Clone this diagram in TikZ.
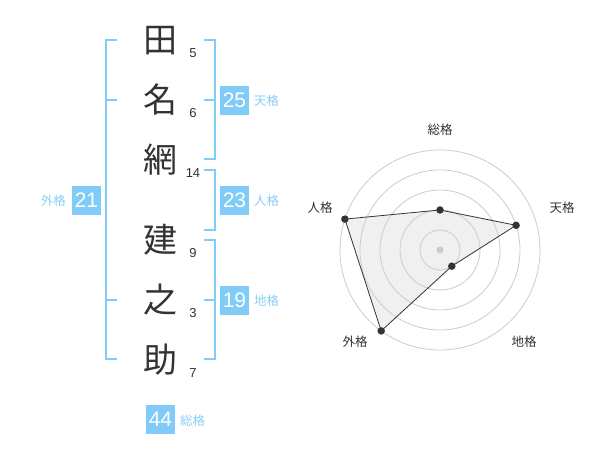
\documentclass[tikz,border=0pt]{standalone}
\usepackage{fontspec}
\usetikzlibrary{calc}
\setmainfont{Liberation Sans}
\newfontfamily\jp{Noto Sans CJK JP}
\definecolor{bblue}{HTML}{80CBF8}
\definecolor{lblue}{HTML}{8ACFF6}
\definecolor{dtext}{HTML}{333333}
\definecolor{ring}{HTML}{CCCCCC}
\definecolor{polyfill}{HTML}{F0F0F0}
\begin{document}
\begin{tikzpicture}[x=1pt,y=-1pt,
  kanji/.style={font=\jp\fontsize{34}{34}\selectfont, text=dtext, inner sep=0pt},
  strokes/.style={font=\fontsize{13}{13}\selectfont, text=dtext, inner sep=0pt},
  numbox/.style={fill=bblue, text=white, minimum width=29pt, minimum height=29pt, inner sep=0pt, font=\fontsize{21}{21}\selectfont},
  kaku/.style={font=\jp\fontsize{12.5}{12.5}\selectfont, text=lblue, inner sep=0pt},
  bracket/.style={draw=bblue, line width=2pt},
  rlabel/.style={font=\jp\fontsize{12.5}{12.5}\selectfont, text=dtext, inner sep=0pt},
  ringline/.style={draw=ring, line width=0.8pt},
  dot/.style={circle, fill=dtext, inner sep=0pt, minimum size=7.5pt}]
\useasboundingbox (0,0) rectangle (600,470);
\fill[white] (0,0) rectangle (600,470);
% characters
\node[kanji] (c1) at (160,41) {田};
\node[kanji] (c2) at (160,100) {名};
\node[kanji] (c3) at (160,160) {網};
\node[kanji] (c4) at (160,240) {建};
\node[kanji] (c5) at (160,300) {之};
\node[kanji] (c6) at (160,360) {助};
% stroke counts
\node[strokes] (s1) at (193,53) {5};
\node[strokes] (s2) at (193,113) {6};
\node[strokes] (s3) at (193,173) {14};
\node[strokes] (s4) at (193,253) {9};
\node[strokes] (s5) at (193,313) {3};
\node[strokes] (s6) at (193,373) {7};
% left bracket (gaikaku)
\draw[bracket] (117,40) -- (106,40) -- (106,359) -- (117,359);
\draw[bracket] (106,100) -- (117,100);
\draw[bracket] (106,300) -- (117,300);
% right brackets
\draw[bracket] (204,40) -- (215,40) -- (215,159) -- (204,159);
\draw[bracket] (215,100) -- (204,100);
\draw[bracket] (204,170) -- (215,170) -- (215,230) -- (204,230);
\draw[bracket] (204,240) -- (215,240) -- (215,359) -- (204,359);
\draw[bracket] (215,300) -- (204,300);
% boxes
\node[numbox] (b25) at (234.5,100.5) {25};
\node[kaku, anchor=west] (l25) at (254,101) {天格};
\node[numbox] (b23) at (234.5,200.5) {23};
\node[kaku, anchor=west] (l23) at (254,201) {人格};
\node[numbox] (b19) at (234.5,300.5) {19};
\node[kaku, anchor=west] (l19) at (254,301) {地格};
\node[numbox] (b21) at (86.5,200.5) {21};
\node[kaku, anchor=east] (l21) at (66,201) {外格};
\node[numbox] (b44) at (160.5,419) {44};
\node[kaku, anchor=west] (l44) at (180,421) {総格};
% radar chart
\coordinate (ctr) at (440,250);
\coordinate (pS) at ($(ctr)+(0,-40)$);
\coordinate (pT) at ($(ctr)+(76.1,-24.7)$);
\coordinate (pC) at ($(ctr)+(11.8,16.2)$);
\coordinate (pG) at ($(ctr)+(-58.8,80.9)$);
\coordinate (pJ) at ($(ctr)+(-95.1,-30.9)$);
\fill[polyfill] (pS) -- (pT) -- (pC) -- (pG) -- (pJ) -- cycle;
\foreach \r in {20,40,60,80,100} \draw[ringline] (ctr) circle (\r pt);
\fill[ring] (ctr) circle (3.5pt);
\draw[dtext, line width=0.8pt] (pS) -- (pT) -- (pC) -- (pG) -- (pJ) -- cycle;
\foreach \p in {pS,pT,pC,pG,pJ} \node[dot] at (\p) {};
\node[rlabel] (rS) at (440,130) {総格};
\node[rlabel] (rT) at (562,208) {天格};
\node[rlabel] (rC) at (524,342) {地格};
\node[rlabel] (rG) at (355,342) {外格};
\node[rlabel] (rJ) at (320,208) {人格};
\end{tikzpicture}
\end{document}
